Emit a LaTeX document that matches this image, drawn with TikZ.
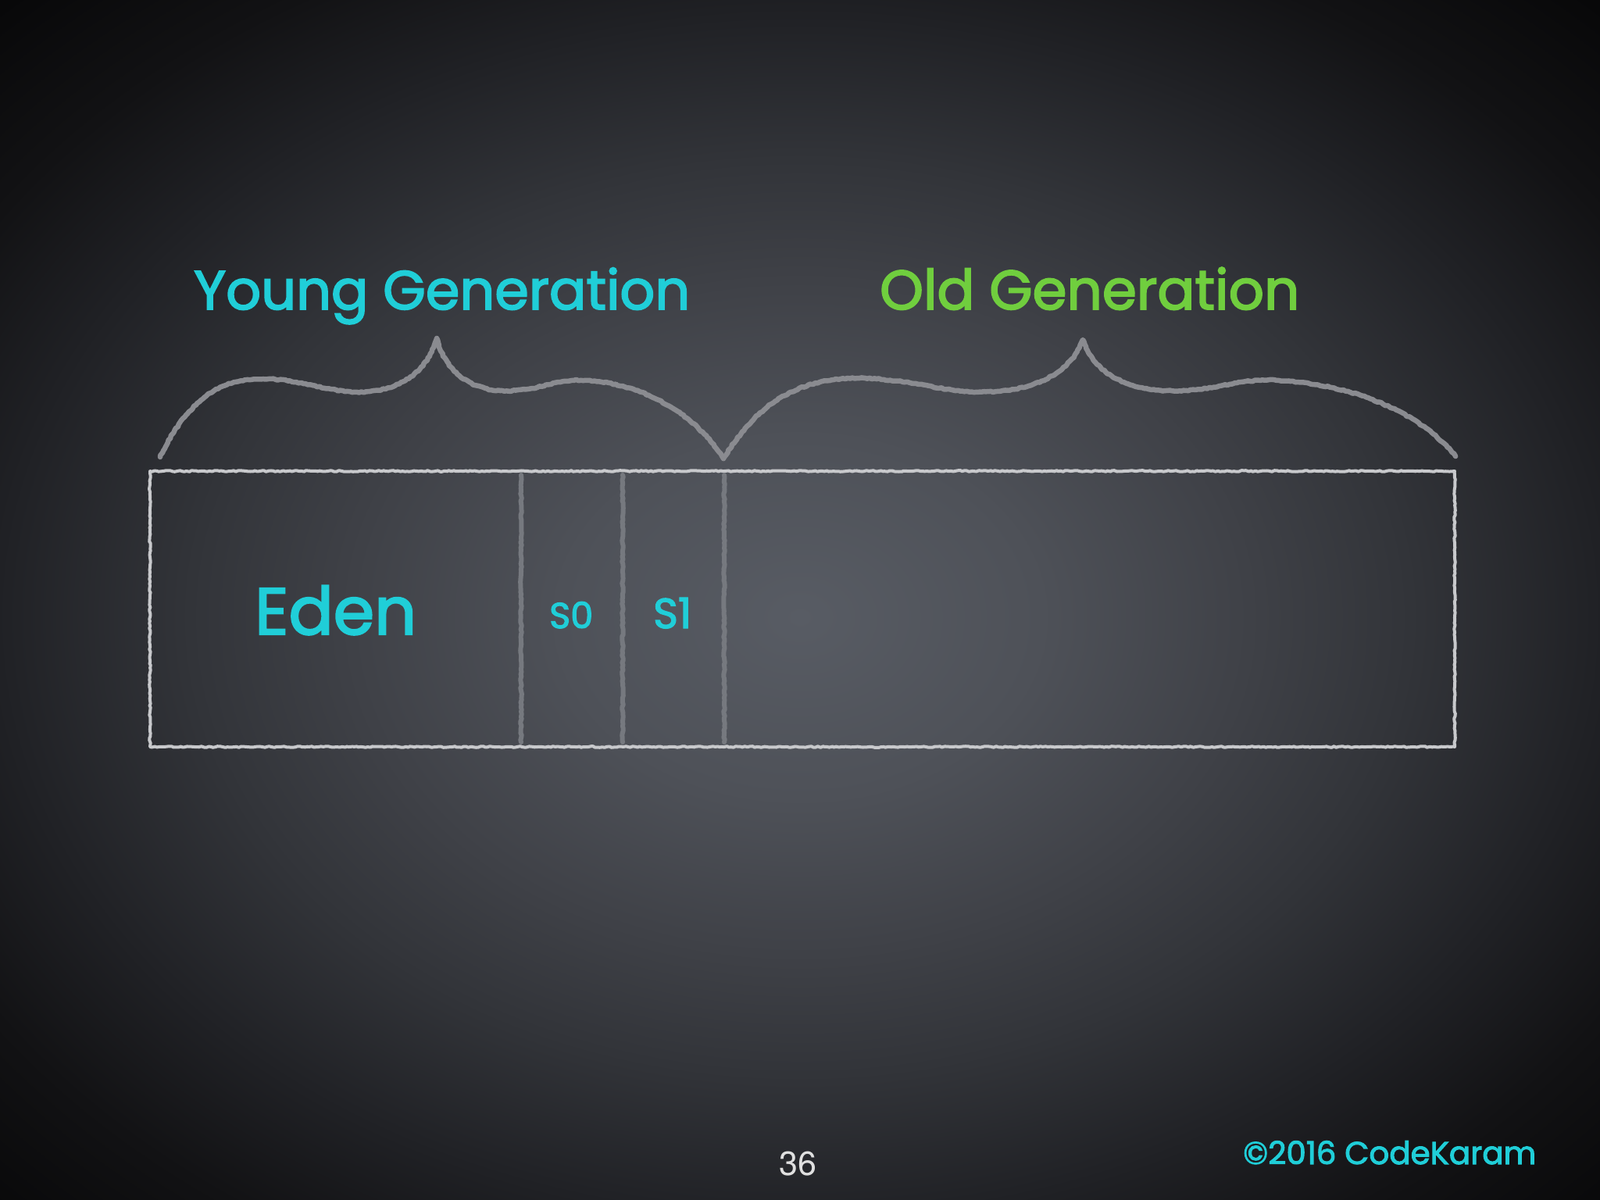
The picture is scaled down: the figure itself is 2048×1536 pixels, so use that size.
\documentclass[tikz,border=0pt]{standalone}
\usepackage{fontspec}
\setmainfont{Poppins}
\newfontfamily\chalkfont[FakeBold=2.5]{Poppins}
\newfontfamily\numfont{TeX Gyre Heros}
\usetikzlibrary{decorations.pathmorphing}
\definecolor{cyanchalk}{RGB}{32,206,216}
\definecolor{greenchalk}{RGB}{112,206,62}
\definecolor{boxchalk}{RGB}{200,201,204}
\definecolor{divchalk}{RGB}{118,121,127}
\definecolor{bracechalk}{RGB}{138,139,144}
\definecolor{bgA}{RGB}{88,92,100}
\definecolor{bgB}{RGB}{78,81,88}
\definecolor{bgC}{RGB}{63,65,71}
\definecolor{bgD}{RGB}{50,52,57}
\definecolor{bgE}{RGB}{32,33,37}
\definecolor{bgF}{RGB}{18,18,20}
\definecolor{bgG}{RGB}{8,8,9}
\pgfdeclareradialshading{bgshade}{\pgfpointorigin}{color(0bp)=(bgA); color(15bp)=(bgB); color(28bp)=(bgC); color(38bp)=(bgD); color(50bp)=(bgE); color(60bp)=(bgF); color(71bp)=(bgG); color(85bp)=(bgG)}
\tikzset{
  chalk/.style={decorate, decoration={random steps, segment length=3pt, amplitude=0.8pt}, line join=round, line cap=round},
  boxline/.style={chalk, draw=boxchalk, line width=4pt},
  divline/.style={chalk, draw=divchalk, line width=6pt},
  braceline/.style={chalk, draw=bracechalk, line width=6.5pt},
  label/.style={inner sep=0pt, anchor=base west, font=\chalkfont},
}
\begin{document}
\begin{tikzpicture}[x=1pt, y=-1pt]
\useasboundingbox (0,0) rectangle (2048,1536);
\fill[bgG] (0,0) rectangle (2048,1536);
\begin{scope}
\clip (0,0) rectangle (2048,1536);
\begin{scope}[shift={(1024,790)}, xscale=20.48, yscale=15.36]
\node[inner sep=0pt, outer sep=0pt, transform shape] (bg) at (0,0) {\pgfuseshading{bgshade}};
\end{scope}
\end{scope}

% heap rectangle
\coordinate (nw) at (192,603);
\coordinate (se) at (1862,956);
\draw[boxline] (nw) rectangle (se);

% dividers
\coordinate (d1t) at (667,608); \coordinate (d1b) at (667,950);
\coordinate (d2t) at (797,608); \coordinate (d2b) at (797,950);
\coordinate (d3t) at (927,608); \coordinate (d3b) at (927,950);
\draw[divline] (d1t) -- (d1b);
\draw[divline] (d2t) -- (d2b);
\draw[divline] (d3t) -- (d3b);

% young brace
\draw[braceline] (205,585) .. controls (241,510) and (284,482) .. (344,485)
  .. controls (400,488) and (429,506) .. (473,501)
  .. controls (515,497) and (547,475) .. (559,433)
  .. controls (569,475) and (602,498) .. (640,500)
  .. controls (688,503) and (710,483) .. (752,487)
  .. controls (825,492) and (890,530) .. (926,587);

% old brace
\draw[braceline] (926,587) .. controls (973,510) and (1029,482) .. (1107,484)
  .. controls (1179,487) and (1216,506) .. (1275,501)
  .. controls (1329,497) and (1371,476) .. (1386,435)
  .. controls (1399,476) and (1441,498) .. (1491,500)
  .. controls (1554,503) and (1582,483) .. (1637,487)
  .. controls (1732,492) and (1816,527) .. (1863,584);

% labels
\node[label, text=cyanchalk] (young) at (248,396) {\resizebox{635pt}{!}{Young Generation}};
\node[label, text=greenchalk] (old) at (1126,396) {\resizebox{537pt}{!}{Old Generation}};
\node[label, text=cyanchalk] (eden) at (326,812) {\resizebox{207pt}{!}{Eden}};
\node[label, text=cyanchalk] (szero) at (703,804) {\resizebox{56pt}{!}{S0}};
\node[label, text=cyanchalk] (sone) at (836,804) {\resizebox{49pt}{!}{S1}};
\node[label, text=cyanchalk] (copy) at (1591,1490) {\resizebox{375pt}{!}{©2016 CodeKaram}};
\node[inner sep=0pt, anchor=base, text=white!88!black] (pagenum) at (1021,1504) {\numfont\fontsize{43}{50}\selectfont 36};
\end{tikzpicture}
\end{document}
